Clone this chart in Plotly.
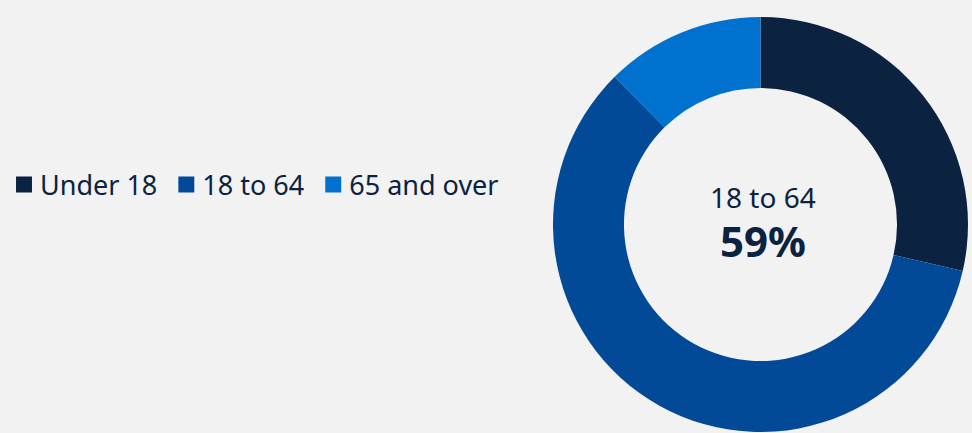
import plotly.graph_objects as go

categories = ["Under 18", "18 to 64", "65 and over"]
values = [28.6, 59.0, 12.4]
colors = ["#0B2341", "#024A97", "#0071CE"]
highlight = "18 to 64"

W, H = 972, 433
bg = "#F2F2F2"
text_color = "#0B2341"
font_family = "Noto Sans"

share = round(values[categories.index(highlight)] / sum(values) * 100)

fig = go.Figure(go.Pie(
    labels=categories,
    values=values,
    hole=0.658,
    sort=False,
    direction="clockwise",
    rotation=0,
    marker=dict(colors=colors, line=dict(width=0)),
    textinfo="none",
    hoverinfo="label+percent",
    domain=dict(x=[553 / W, 968 / W], y=[1 / H, 416 / H]),
))

cx = (553 + 968) / 2 / W
center_text = (f"<span style='font-size:28px'>{highlight}</span><br>"
               f"<span style='font-size:42px'><b>{share}%</b></span>")
fig.add_annotation(x=cx + 2 / W, y=1 - 223.5 / H, xref="paper", yref="paper",
                   text=center_text, showarrow=False, xanchor="center", yanchor="middle",
                   align="center",
                   font=dict(size=38, color=text_color, family=font_family))

fig.update_layout(
    width=W, height=H,
    margin=dict(l=0, r=0, t=0, b=0),
    paper_bgcolor=bg, plot_bgcolor=bg,
    font=dict(family=font_family, color=text_color),
    showlegend=True,
    legend=dict(orientation="h", x=0, xanchor="left", y=1 - 185 / H, yanchor="middle",
                font=dict(size=27, color=text_color, family=font_family),
                bgcolor="rgba(0,0,0,0)", itemwidth=30, traceorder="normal"),
)

post = """
document.documentElement.style.margin = '0';
document.body.style.margin = '0';
document.body.style.background = '#F2F2F2';
var pts = document.querySelectorAll('.legendpoints path');
pts.forEach(function(p){
  var t = p.getAttribute('transform') || '';
  p.setAttribute('transform', t + ' translate(4,0) scale(1.33)');
});
"""

fig.write_html("out.html", post_script=post, config={"displayModeBar": False})
